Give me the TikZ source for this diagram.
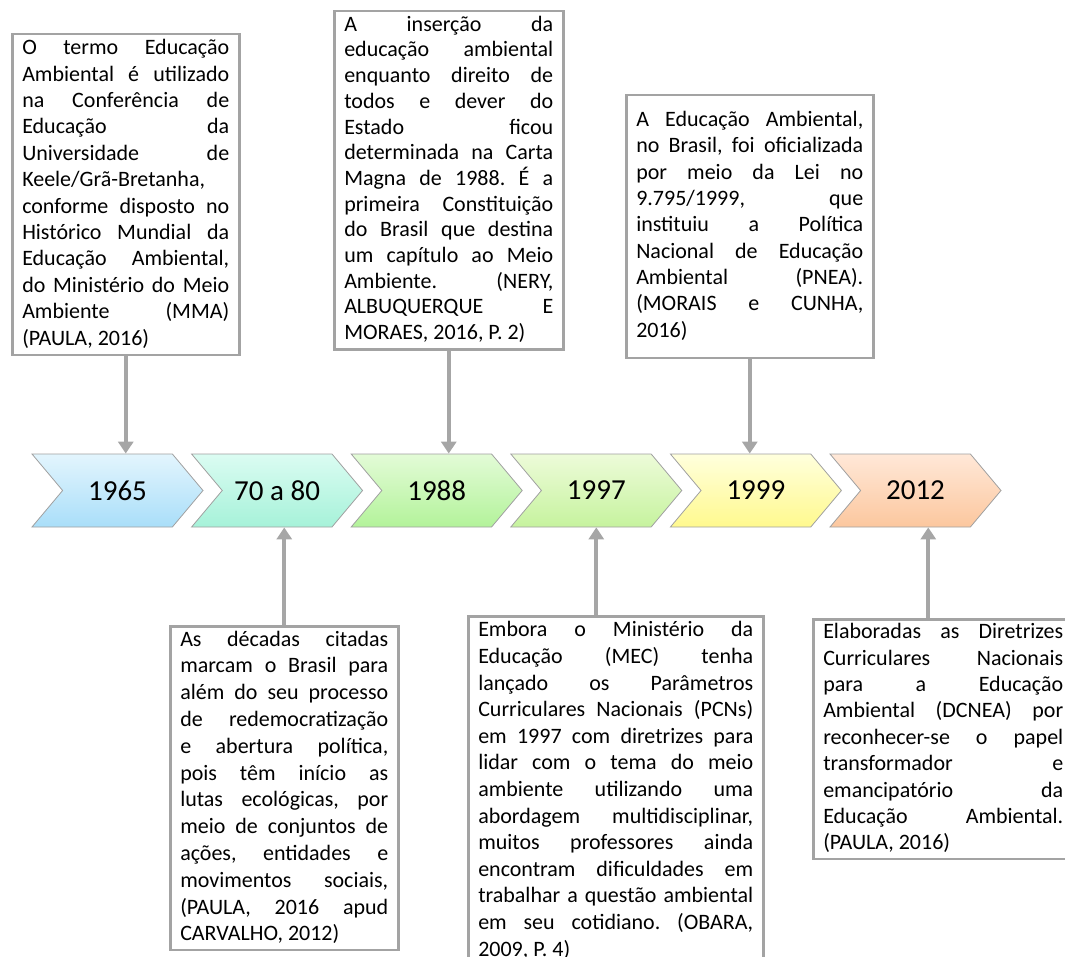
\documentclass[tikz,border=0pt]{standalone}
\usepackage{fontspec}
\setmainfont{Carlito}
\usetikzlibrary{shapes.symbols,arrows.meta}

\definecolor{boxgray}{HTML}{A3A3A3}
\definecolor{arrowgray}{HTML}{A6A6A6}
\definecolor{chevgray}{HTML}{A0A0A0}
\definecolor{azulA}{HTML}{E3F5FD}
\definecolor{azulB}{HTML}{A9DEF9}
\definecolor{mentaA}{HTML}{DBFCF2}
\definecolor{mentaB}{HTML}{A6F2D9}
\definecolor{verdeA}{HTML}{E3FBD7}
\definecolor{verdeB}{HTML}{B3F39A}
\definecolor{limaA}{HTML}{EDFBD9}
\definecolor{limaB}{HTML}{C6F39E}
\definecolor{amareloA}{HTML}{FFFFDD}
\definecolor{amareloB}{HTML}{FFF98E}
\definecolor{laranjaA}{HTML}{FFE8D8}
\definecolor{laranjaB}{HTML}{FCC79E}

\tikzset{
  ano/.style={shape=signal, signal from=west, signal to=east, signal pointer angle=100,
    minimum width=171pt, minimum height=73pt, inner sep=0pt, draw=chevgray, line width=0.8pt,
    font=\fontsize{29}{34}\selectfont},
  nota/.style={draw=boxgray, line width=2.5pt, fill=white, anchor=north west,
    align=justify, inner xsep=10pt, inner ysep=2pt,
    font=\fontsize{22}{#1}\selectfont\frenchspacing,
    execute at begin node={\tolerance=10000\relax\hyphenpenalty=10000\relax\strut},
    execute at end node=\strut},
  nota/.default=26.4,
  pointer/.style={draw=arrowgray, line width=4pt, -{Triangle[width=15pt,length=12pt]}}
}

\begin{document}
\begin{tikzpicture}[x=1pt,y=-1pt]

\useasboundingbox (0,0) rectangle (1065,957);

\foreach \ano/\corA/\corB [count=\i] in {1965/azulA/azulB, 70 a 80/mentaA/mentaB,
    1988/verdeA/verdeB, 1997/limaA/limaB, 1999/amareloA/amareloB, 2012/laranjaA/laranjaB}
  \node[ano, top color=\corA, bottom color=\corB] (c\i) at ({117.5+159.6*(\i-1)},490.5) {\ano};

\node[nota, text width=207pt] (b1) at (11,33) {O termo Educação\linebreak Ambiental é utilizado\linebreak na Conferência de\linebreak Educação da\linebreak Universidade de\linebreak Keele/Grã-Bretanha,\linebreak conforme disposto no\linebreak Histórico Mundial da\linebreak Educação Ambiental,\linebreak do Ministério do Meio\linebreak Ambiente (MMA)\linebreak (PAULA, 2016)};

\node[nota=25.7, text width=209pt] (b2) at (333,10) {A inserção da\linebreak educação ambiental\linebreak enquanto direito de\linebreak todos e dever do\linebreak Estado ficou\linebreak determinada na Carta\linebreak Magna de 1988. É a\linebreak primeira Constituição\linebreak do Brasil que destina\linebreak um capítulo ao Meio\linebreak Ambiente. (NERY,\linebreak ALBUQUERQUE E\linebreak MORAES, 2016, P. 2)};

\node[nota=26.3, text width=227pt, inner ysep=13pt] (b3) at (625,94) {A Educação Ambiental,\linebreak no Brasil, foi oficializada\linebreak por meio da Lei no\linebreak 9.795/1999, que\linebreak instituiu a Política\linebreak Nacional de Educação\linebreak Ambiental (PNEA).\linebreak (MORAIS e CUNHA,\linebreak 2016)};

\node[nota=26.8, text width=208pt, inner ysep=1pt] (b4) at (169,625) {As décadas citadas\linebreak marcam o Brasil para\linebreak além do seu processo\linebreak de redemocratização\linebreak e abertura política,\linebreak pois têm início as\linebreak lutas ecológicas, por\linebreak meio de conjuntos de\linebreak ações, entidades e\linebreak movimentos sociais,\linebreak (PAULA, 2016 apud\linebreak CARVALHO, 2012)};

\node[nota=26.6, text width=275pt] (b5) at (467,615) {Embora o Ministério da\linebreak Educação (MEC) tenha\linebreak lançado os Parâmetros\linebreak Curriculares Nacionais (PCNs)\linebreak em 1997 com diretrizes para\linebreak lidar com o tema do meio\linebreak ambiente utilizando uma\linebreak abordagem multidisciplinar,\linebreak muitos professores ainda\linebreak encontram dificuldades em\linebreak trabalhar a questão ambiental\linebreak em seu cotidiano. (OBARA,\linebreak 2009, P. 4)};

\node[nota, text width=240pt, inner ysep=1pt] (b6) at (812,618) {Elaboradas as Diretrizes\linebreak Curriculares Nacionais\linebreak para a Educação\linebreak Ambiental (DCNEA) por\linebreak reconhecer-se o papel\linebreak transformador e\linebreak emancipatório da\linebreak Educação Ambiental.\linebreak (PAULA, 2016)};

\draw[pointer] (b1.south) -- (b1.south |- c1.north);
\draw[pointer] (b2.south) -- (b2.south |- c3.north);
\draw[pointer] (b3.south) -- (b3.south |- c5.north);
\draw[pointer] (b4.north) -- (b4.north |- c2.south);
\draw[pointer] (c4.south |- b5.north) -- (c4.south);
\draw[pointer] ([xshift=-15pt]b6.north) -- ([xshift=-15pt]b6.north |- c6.south);

\end{tikzpicture}
\end{document}
